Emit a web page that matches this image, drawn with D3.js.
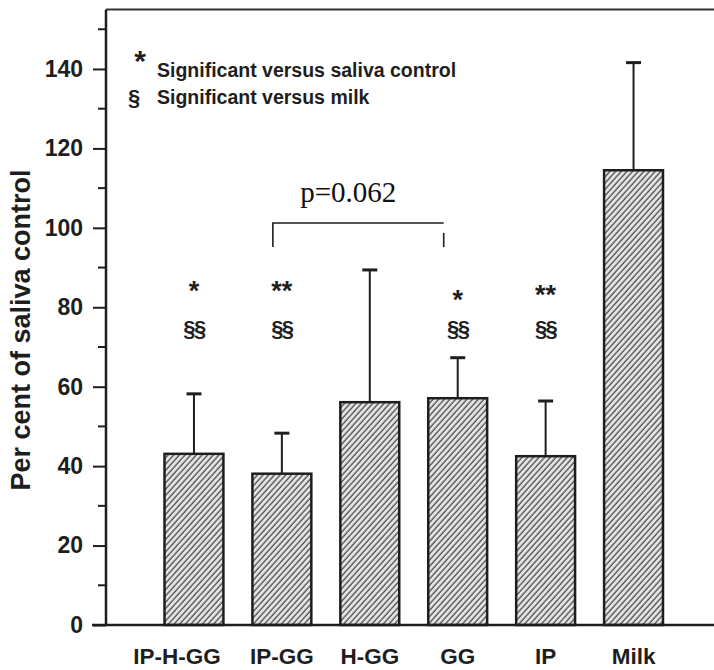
<!DOCTYPE html>
<html>
<head>
<meta charset="utf-8">
<script src="https://cdn.jsdelivr.net/npm/d3@7"></script>
<style>
  body { margin: 0; background: #fff; }
  svg { display: block; }
</style>
</head>
<body>
<svg width="714" height="670"></svg>
<script>
// values (per cent of saliva control, mean + SE)
const categories = ["IP-H-GG", "IP-GG", "H-GG", "GG", "IP", "Milk"];
const means = [43.1, 38.1, 56.1, 57.1, 42.5, 114.5];
const errors = [15.1, 10.2, 33.3, 10.2, 13.9, 27.1];
const starMarks = ["*", "**", "", "*", "**", ""];
const milkMarks = ["§§", "§§", "", "§§", "§§", ""];
const majorTicks = [0, 20, 40, 60, 80, 100, 120, 140];
const minorTicks = [10, 30, 50, 70, 90, 110, 130, 150];
const legendLines = ["Significant versus saliva control", "Significant versus milk"];
const pLabel = "p=0.062";

const svg = d3.select("svg");
const sans = "'Liberation Sans', Arial, Helvetica, sans-serif";
const ink = "#1e1e1e";

const y = d3.scaleLinear().domain([0, 155]).range([625, 9.4]);
const x = d3.scaleBand().domain(categories).range([150, 677.5])
  .paddingInner(0.33).paddingOuter(0.165);

// hatch pattern
const defs = svg.append("defs");
const pat = defs.append("pattern")
  .attr("id", "hatch")
  .attr("patternUnits", "userSpaceOnUse")
  .attr("width", 4.2).attr("height", 10)
  .attr("patternTransform", "rotate(42)");
pat.append("rect").attr("width", 4.2).attr("height", 10).attr("fill", "#e4e4e4");
pat.append("line").attr("x1", 1).attr("x2", 1).attr("y1", 0).attr("y2", 10)
  .attr("stroke", "#555").attr("stroke-width", 1.4);

// frame: top border
svg.append("line")
  .attr("x1", 106).attr("x2", 714).attr("y1", y.range()[1]).attr("y2", y.range()[1])
  .attr("stroke", "#333").attr("stroke-width", 2);

// y axis
const yAxis = svg.append("g").attr("transform", "translate(106,0)")
  .call(d3.axisLeft(y).tickValues(majorTicks).tickSize(13).tickPadding(10).tickFormat(d3.format("d")));
yAxis.select(".domain").remove();
yAxis.selectAll(".tick line").attr("stroke", ink).attr("stroke-width", 2);
yAxis.selectAll(".tick text")
  .attr("font-family", sans).attr("font-size", 23).attr("font-weight", "bold").attr("fill", ink);

svg.append("g").selectAll("line").data(minorTicks).join("line")
  .attr("x1", 98).attr("x2", 106)
  .attr("y1", d => y(d)).attr("y2", d => y(d))
  .attr("stroke", ink).attr("stroke-width", 2);

svg.append("line")
  .attr("x1", 106).attr("x2", 106).attr("y1", y.range()[1]).attr("y2", y(0))
  .attr("stroke", ink).attr("stroke-width", 2.5);

// bars
svg.append("g").selectAll("rect").data(categories).join("rect")
  .attr("x", d => x(d))
  .attr("y", (d, i) => y(means[i]))
  .attr("width", x.bandwidth())
  .attr("height", (d, i) => y(0) - y(means[i]))
  .attr("fill", "url(#hatch)")
  .attr("stroke", ink).attr("stroke-width", 2.5);

// error bars
const eb = svg.append("g").attr("stroke", ink).attr("stroke-width", 2);
eb.selectAll("line.v").data(categories).join("line").attr("class", "v")
  .attr("x1", d => x(d) + x.bandwidth() / 2).attr("x2", d => x(d) + x.bandwidth() / 2)
  .attr("y1", (d, i) => y(means[i])).attr("y2", (d, i) => y(means[i] + errors[i]));
eb.selectAll("line.c").data(categories).join("line").attr("class", "c")
  .attr("x1", d => x(d) + x.bandwidth() / 2 - 7.5).attr("x2", d => x(d) + x.bandwidth() / 2 + 7.5)
  .attr("y1", (d, i) => y(means[i] + errors[i])).attr("y2", (d, i) => y(means[i] + errors[i]))
  .attr("stroke-width", 3);

// x axis baseline
svg.append("line")
  .attr("x1", 92).attr("x2", 714).attr("y1", y(0)).attr("y2", y(0))
  .attr("stroke", ink).attr("stroke-width", 2.5);

// category labels
svg.append("g").selectAll("text").data(categories).join("text")
  .attr("x", d => x(d) + x.bandwidth() / 2 + (d === "IP-H-GG" ? -17 : 0))
  .attr("y", 664)
  .attr("text-anchor", "middle")
  .attr("font-family", sans).attr("font-size", 22.5).attr("font-weight", "bold").attr("fill", ink)
  .text(d => d);

// significance marks
svg.append("g").selectAll("text").data(categories).join("text")
  .attr("x", d => x(d) + x.bandwidth() / 2)
  .attr("y", (d, i) => (i === 3 ? 309 : i === 4 ? 304 : 300))
  .attr("text-anchor", "middle")
  .attr("font-family", sans).attr("font-size", 27).attr("font-weight", "bold").attr("fill", ink)
  .text((d, i) => starMarks[i]);

svg.append("g").selectAll("text").data(categories).join("text")
  .attr("x", d => x(d) + x.bandwidth() / 2)
  .attr("y", 336)
  .attr("text-anchor", "middle")
  .attr("font-family", sans).attr("font-size", 22).attr("font-weight", "bold").attr("fill", ink)
  .attr("letter-spacing", -1.5)
  .text((d, i) => milkMarks[i]);

// bracket between IP-GG and GG
const bx1 = x("IP-GG") + x.bandwidth() / 2 - 9;
const bx2 = x("GG") + x.bandwidth() / 2 - 14;
svg.append("path")
  .attr("d", `M${bx1},247 V223 H${bx2}`)
  .attr("fill", "none").attr("stroke", ink).attr("stroke-width", 1.6);
svg.append("line")
  .attr("x1", bx2).attr("x2", bx2).attr("y1", 233).attr("y2", 247)
  .attr("stroke", ink).attr("stroke-width", 1.6);
svg.append("text")
  .attr("x", (bx1 + bx2) / 2 - 10).attr("y", 202)
  .attr("text-anchor", "middle")
  .attr("font-family", "'Liberation Serif', 'Times New Roman', serif").attr("font-size", 29)
  .attr("fill", "#111")
  .text(pLabel);

// legend
const leg = svg.append("g").attr("font-family", sans).attr("font-weight", "bold").attr("fill", ink);
leg.append("text").attr("x", 140).attr("y", 71).attr("text-anchor", "middle")
  .attr("font-size", 30).text("*");
leg.append("text").attr("x", 157).attr("y", 77).attr("font-size", 19.5).text(legendLines[0]);
leg.append("text").attr("x", 134).attr("y", 105).attr("text-anchor", "middle")
  .attr("font-size", 22).text("§");
leg.append("text").attr("x", 157).attr("y", 104).attr("font-size", 19.5).text(legendLines[1]);

// y axis title
svg.append("text")
  .attr("transform", "translate(30,330) rotate(-90)")
  .attr("text-anchor", "middle")
  .attr("font-family", sans).attr("font-size", 27).attr("font-weight", "bold").attr("fill", ink)
  .text("Per cent of saliva control");
</script>
</body>
</html>
